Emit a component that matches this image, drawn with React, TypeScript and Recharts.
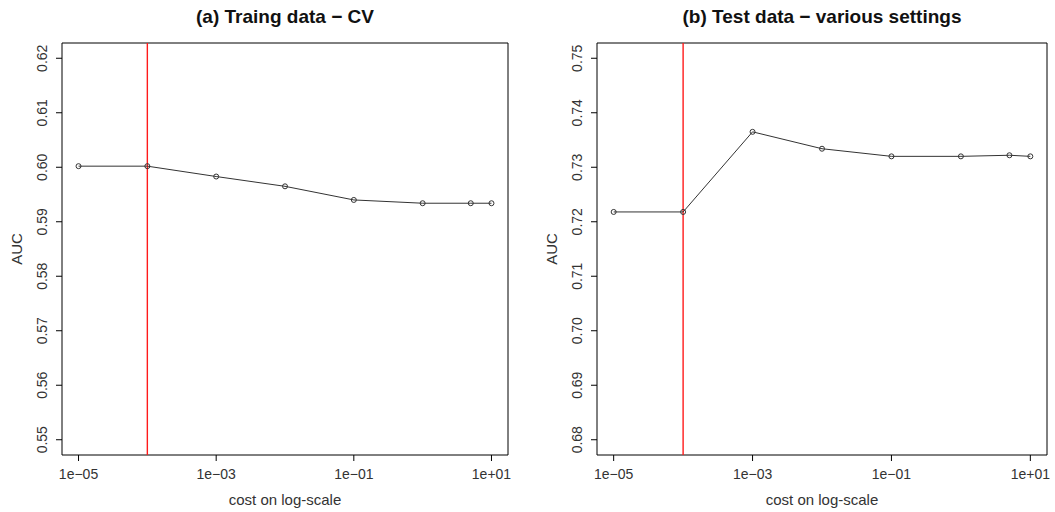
import React from 'react';
import { LineChart, Line, XAxis, YAxis, ReferenceLine, ReferenceArea, Label } from 'recharts';

// cost values tried in the grid search
const COST = [1e-5, 1e-4, 1e-3, 1e-2, 1e-1, 1, 5, 10];
// AUC, cross-validated on training data
const CV_AUC = [0.6002, 0.6002, 0.5983, 0.5965, 0.594, 0.5934, 0.5934, 0.5934];
// AUC on test data
const TEST_AUC = [0.7218, 0.7218, 0.7365, 0.7334, 0.732, 0.732, 0.7322, 0.732];
const BEST_COST = 1e-4;

const X_TICKS = [1e-5, 1e-3, 1e-1, 10];
const CV_Y_TICKS = [0.55, 0.56, 0.57, 0.58, 0.59, 0.6, 0.61, 0.62];
const TEST_Y_TICKS = [0.68, 0.69, 0.7, 0.71, 0.72, 0.73, 0.74, 0.75];

const FONT = '"Liberation Sans", Arial, Helvetica, sans-serif';
const TXT = '#333';

// R pads axis ranges by 4% on each side
const logDomain = (vals: number[]): [number, number] => {
  const lo = Math.log10(Math.min(...vals));
  const hi = Math.log10(Math.max(...vals));
  const pad = (hi - lo) * 0.04;
  return [Math.pow(10, lo - pad), Math.pow(10, hi + pad)];
};
const linDomain = (vals: number[]): [number, number] => {
  const lo = Math.min(...vals);
  const hi = Math.max(...vals);
  const pad = (hi - lo) * 0.04;
  return [lo - pad, hi + pad];
};

const fmtExp = (v: number) => {
  const e = Math.round(Math.log10(v));
  return `1e${e < 0 ? '\u2212' : '+'}${String(Math.abs(e)).padStart(2, '0')}`;
};

interface PanelProps {
  title: string;
  values: number[];
  yTicks: number[];
  left: number;
  width: number;
  axisWidth: number;
  marginRight: number;
}

const HEIGHT = 512;
const TOP = 43;
const BOTTOM = 57;

const Panel: React.FC<PanelProps> = ({ title, values, yTicks, left, width, axisWidth, marginRight }) => {
  const data = COST.map((c, i) => ({ cost: c, auc: values[i] }));
  const xDom = logDomain(COST);
  const yDom = linDomain(yTicks);
  const plotCx = (axisWidth + width - marginRight) / 2;
  const plotCy = (TOP + HEIGHT - BOTTOM) / 2;

  const YTick = (p: any) => {
    const x = axisWidth - 15;
    return (
      <text x={x} y={p.y} transform={`rotate(-90 ${x} ${p.y})`} textAnchor="middle"
        fontSize={14} fill={TXT} fontFamily={FONT}>
        {Number(p.payload.value).toFixed(2)}
      </text>
    );
  };

  return (
    <div style={{ position: 'absolute', left, top: 0, width, height: HEIGHT }}>
      <div style={{ position: 'absolute', left: 0, width: plotCx * 2, top: 6, textAlign: 'center',
        fontFamily: FONT, fontWeight: 'bold', fontSize: 19, color: '#111' }}>
        {title}
      </div>
      <LineChart width={width} height={HEIGHT} data={data}
        margin={{ top: TOP, right: marginRight, bottom: BOTTOM - 30, left: 0 }}>
        <XAxis dataKey="cost" type="number" scale="log" domain={xDom} ticks={X_TICKS}
          allowDataOverflow tickFormatter={fmtExp} axisLine={false} height={30}
          tickSize={6} tickMargin={8} interval={0}
          tickLine={{ stroke: '#000' }}
          tick={{ fontSize: 14, fill: TXT, fontFamily: FONT }}>
          <Label content={() => (
            <text x={plotCx} y={505} textAnchor="middle" fontSize={15} fill={TXT} fontFamily={FONT}>
              cost on log-scale
            </text>
          )} />
        </XAxis>
        <YAxis type="number" domain={yDom} ticks={yTicks} allowDataOverflow width={axisWidth}
          axisLine={false} tickSize={6} tickLine={{ stroke: '#000' }} interval={0} tick={YTick}>
          <Label content={() => (
            <text x={axisWidth - 40.5} y={plotCy} transform={`rotate(-90 ${axisWidth - 40.5} ${plotCy})`}
              textAnchor="middle" fontSize={15} fill={TXT} fontFamily={FONT}>
              AUC
            </text>
          )} />
        </YAxis>
        <ReferenceArea x1={xDom[0]} x2={xDom[1]} y1={yDom[0]} y2={yDom[1]}
          fill="none" stroke="#000" strokeWidth={1} ifOverflow="visible" />
        <ReferenceLine x={BEST_COST} stroke="#ff1a1a" strokeWidth={1.4} />
        <Line dataKey="auc" stroke="#333" strokeWidth={1} isAnimationActive={false}
          dot={{ r: 2.5, stroke: '#333', strokeWidth: 1, fill: 'none' }} activeDot={false} />
      </LineChart>
    </div>
  );
};

export default function App() {
  return (
    <div style={{ position: 'absolute', left: 0, top: 0, width: 1055, height: 512, background: '#fff' }}>
      <Panel title={'(a) Traing data \u2212 CV'} values={CV_AUC} yTicks={CV_Y_TICKS}
        left={0} width={530} axisWidth={62} marginRight={22} />
      <Panel title={'(b) Test data \u2212 various settings'} values={TEST_AUC} yTicks={TEST_Y_TICKS}
        left={530} width={525} axisWidth={67} marginRight={8} />
    </div>
  );
}
